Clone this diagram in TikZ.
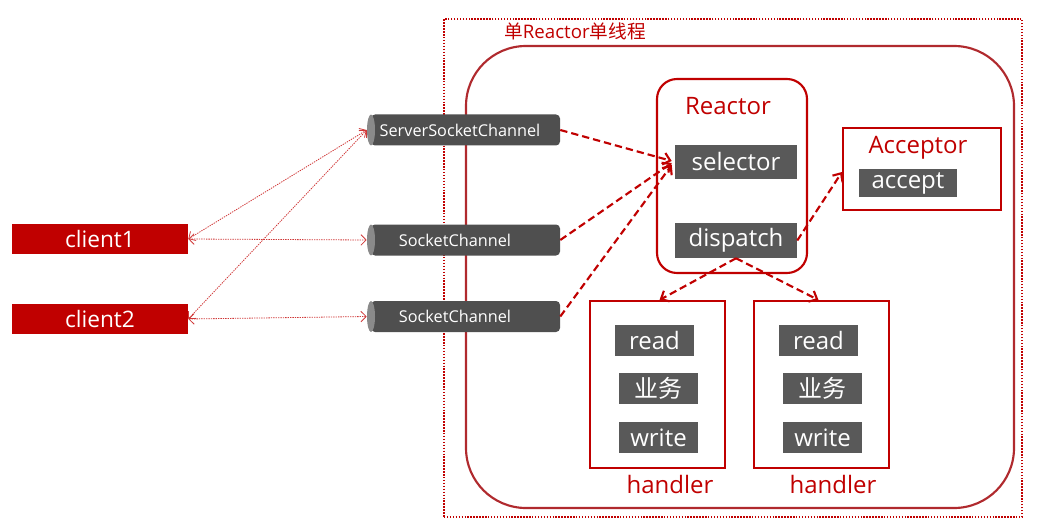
\documentclass[tikz,border=0pt]{standalone}
\usepackage{fontspec}
\setmainfont{Open Sans}
\newfontfamily\cjk{Noto Sans CJK SC}
\usetikzlibrary{arrows.meta,calc}
\definecolor{dred}{HTML}{C00000}
\definecolor{bred}{HTML}{B02A2E}
\definecolor{lred}{HTML}{D03838}
\definecolor{gbox}{HTML}{595959}
\definecolor{cylb}{HTML}{4F4F4F}
\definecolor{cyle}{HTML}{8A8A8A}
\tikzset{
  big/.style={font=\fontsize{18}{20}\selectfont},
  gb/.style={fill=gbox, text=white, inner sep=0pt, minimum width=79*0.75pt, minimum height=31*0.75pt, big},
  redlabel/.style={text=dred, inner sep=0pt, big},
  client/.style={fill=dred, text=white, inner sep=0pt, minimum width=176*0.75pt, minimum height=30*0.75pt, font=\fontsize{17}{19}\selectfont},
  chanbox/.style={inner sep=0pt, minimum width=193*0.75pt, minimum height=31*0.75pt},
  chantext/.style={text=white, inner sep=0pt, font=\fontsize{12.2}{14}\selectfont},
  hbox/.style={draw=dred, line width=1.5pt, inner sep=0pt, minimum width=135*0.75pt, minimum height=167*0.75pt},
  thick dash/.style={draw=dred, line width=1.6pt, dash pattern=on 5.5pt off 3pt, -{Straight Barb[length=5pt,width=9pt,line width=1.6pt]}},
  thin dot/.style={draw=lred, line width=0.6pt, dash pattern=on 1pt off 0.8pt, {Straight Barb[length=4pt,width=8pt,line width=0.6pt]}-{Straight Barb[length=4pt,width=8pt,line width=0.6pt]}},
}
\newcommand\mychan[5]{% name, left x, cy, text centre x, text
  \fill[cylb, rounded corners=3pt] ({#2+4},{#3-15.5}) rectangle ({#2+193},{#3+15.5});
  \fill[cyle] ({#2+4},#3) ellipse [x radius=3pt, y radius=11.6pt];
  \node[chanbox] (#1) at ({#2+96.5},#3) {};
  \node[chantext] (#1text) at (#4,#3) {#5};}
\begin{document}
\begin{tikzpicture}[x=0.75pt,y=-0.75pt]
\useasboundingbox (0,0) rectangle (1053,531);
% outer frame
\node[draw=dred, line width=1.3pt, dash pattern=on 1.1pt off 1.1pt, inner sep=0pt, minimum width=578*0.75pt, minimum height=498*0.75pt] (frame) at (733,268) {};
\node[text=dred, inner sep=0pt, font=\fontsize{14}{16}\selectfont] (title) at (575,31) {{\cjk 单}Reactor{\cjk 单线程}};
% big rounded
\node[draw=bred, line width=1.6pt, rounded corners=45pt, inner sep=0pt, minimum width=548*0.75pt, minimum height=462*0.75pt] (main) at (740,277) {};
% reactor
\node[draw=dred, line width=1.6pt, rounded corners=15pt, inner sep=0pt, minimum width=150*0.75pt, minimum height=194*0.75pt] (reactor) at (732,176) {};
\node[redlabel] (reactorlbl) at (728,106) {Reactor};
\node[gb, minimum width=122*0.75pt, minimum height=34*0.75pt] (selector) at (736,162) {selector};
\node[gb, minimum width=122*0.75pt, minimum height=35*0.75pt] (dispatch) at (736,240.5) {dispatch};
% acceptor
\node[draw=dred, line width=1.5pt, inner sep=0pt, minimum width=158*0.75pt, minimum height=82*0.75pt] (acceptor) at (922,169) {};
\node[redlabel] (acceptorlbl) at (918,147.5) {Acceptor};
\node[gb, minimum width=98*0.75pt, minimum height=28*0.75pt] (accept) at (908,183) {accept};
% handlers
\node[hbox] (h1) at (657.5,384.5) {};
\node[hbox] (h2) at (821.5,384.5) {};
\node[gb] (r1) at (654.5,340.5) {read};
\node[gb] (b1) at (658.5,388.5) {\cjk 业务};
\node[gb] (w1) at (658.5,437.5) {write};
\node[gb] (r2) at (818.5,340.5) {read};
\node[gb] (b2) at (822.5,388.5) {\cjk 业务};
\node[gb] (w2) at (822.5,437.5) {write};
\node[redlabel] (hl1) at (670,484) {handler};
\node[redlabel] (hl2) at (833,484) {handler};
% clients
\node[client] (c1) at (100,239) {client1};
\node[client] (c2) at (100,319) {client2};
% channels
\mychan{ssc}{367}{130}{460}{ServerSocketChannel}
\mychan{sc1}{367}{240}{455}{SocketChannel}
\mychan{sc2}{367}{316.5}{455}{SocketChannel}
% client connectors
\draw[thin dot] (c1.east) -- (sc1.west);
\draw[thin dot] (c1.east) -- (ssc.west);
\draw[thin dot] (c2.east) -- (sc2.west);
\draw[thin dot] (c2.east) -- (ssc.west);
% dashed arrows
\draw[thick dash] (ssc.east) -- ($(selector.west)+(-3,-1)$);
\draw[thick dash] (sc1.east) -- ($(selector.west)+(-3,1)$);
\draw[thick dash] (sc2.east) -- ($(selector.west)+(-3,3)$);
\draw[thick dash] (dispatch.east) -- ($(acceptor.west)+(0,3)$);
\draw[thick dash] (dispatch.south) -- ($(h1.north)+(2,0)$);
\draw[thick dash] (dispatch.south) -- ($(h2.north)+(-3,0)$);
\end{tikzpicture}
\end{document}
